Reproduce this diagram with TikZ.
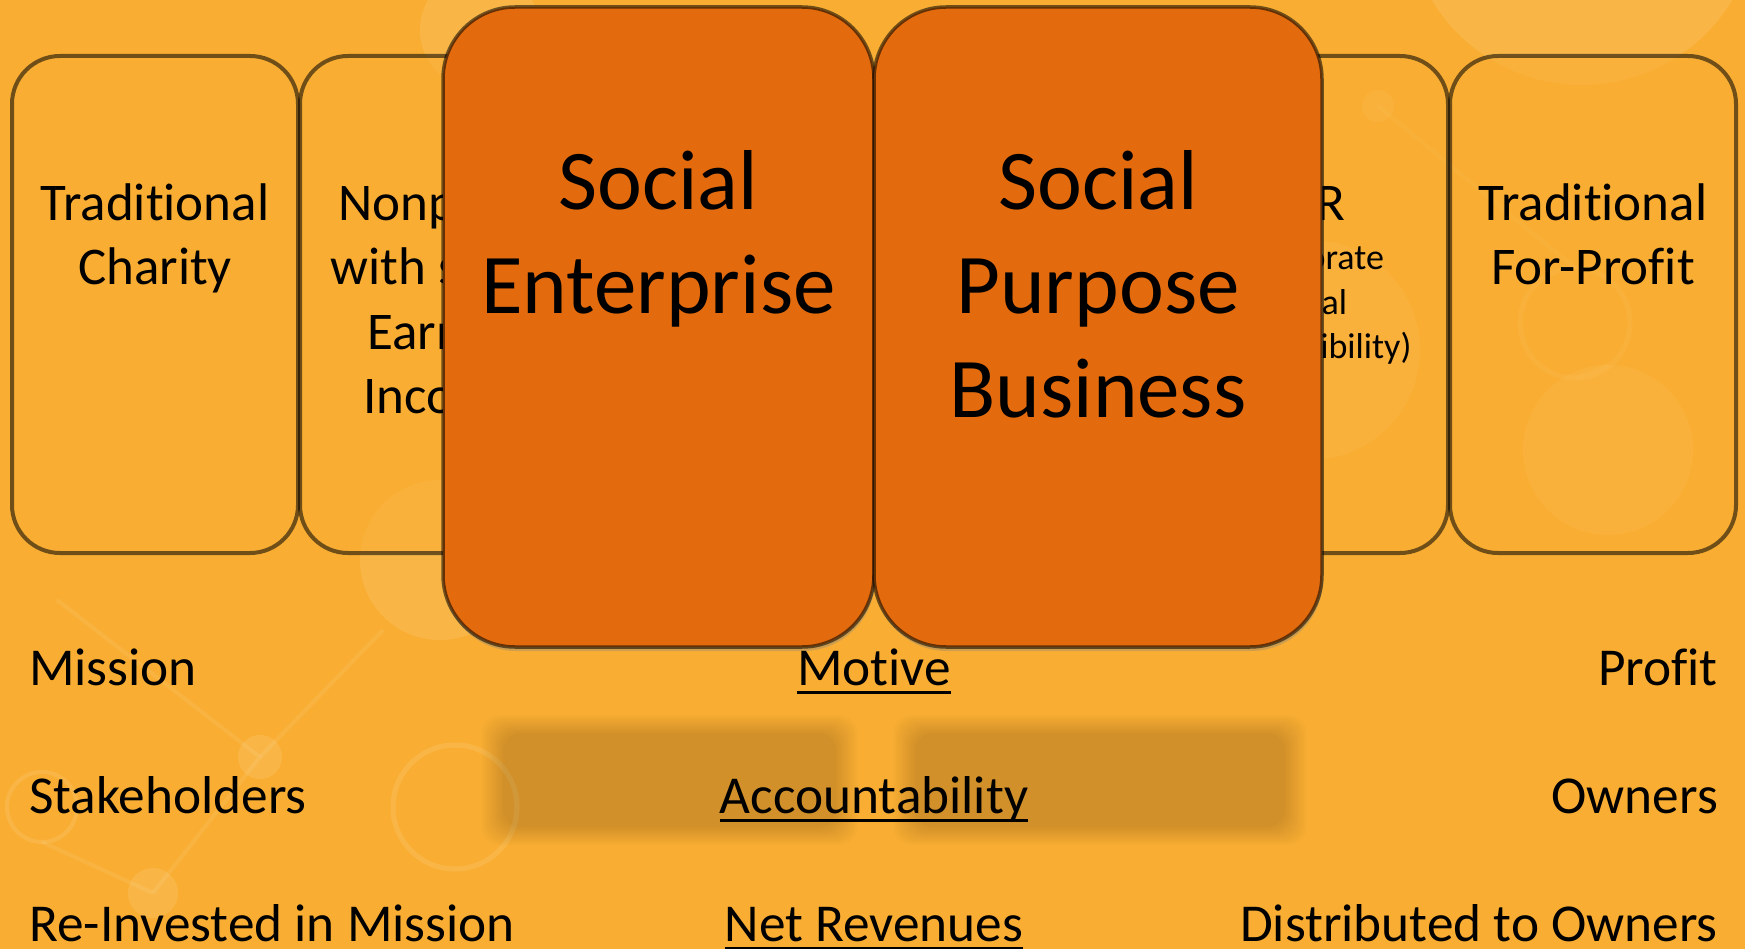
\documentclass[tikz,border=0pt]{standalone}
\usepackage{fontspec}
\setmainfont{Carlito}[Ligatures={NoCommon}]
\usetikzlibrary{shadows}
\definecolor{bg}{HTML}{F9AE33}
\definecolor{deep}{HTML}{E36B0D}
\begin{document}
\begin{tikzpicture}[x=1pt,y=-1pt,
  smallbox/.style={draw=black, draw opacity=0.55, line width=4pt, fill=bg, fill opacity=0.6,
    rounded corners=48pt, minimum width=286pt, minimum height=497pt, inner sep=0pt},
  bigbox/.style={draw=black, draw opacity=0.55, line width=3.5pt, fill=deep,
    rounded corners=72pt, minimum height=640pt, inner sep=0pt,
    drop shadow={shadow xshift=1pt, shadow yshift=-4pt, opacity=0.35}},
  lbl/.style={font=\fontsize{53}{64}\selectfont, align=center, anchor=base, inner sep=0pt},
  sublbl/.style={font=\fontsize{36}{44.5}\selectfont, align=center, anchor=base, inner sep=0pt},
  biglbl/.style={font=\fontsize{85}{103.5}\selectfont, align=center, anchor=base, inner sep=0pt},
  rowlbl/.style={font=\fontsize{53.3}{64}\selectfont, inner sep=0pt},
  deco/.style={white, opacity=0.1},
  decoline/.style={white, opacity=0.07, line width=4pt},
  uline/.style={line width=3.6pt}
]
\useasboundingbox (0,0) rectangle (1745,949);
\fill[bg] (0,0) rectangle (1745,949);
% faint background network
\fill[deco] (1582,-90) circle (175);
\fill[deco] (1608,450) circle (85);
\draw[deco, line width=5pt] (1575,323) circle (55);
\fill[deco] (1378,106) circle (16);
\fill[deco] (1310,350) circle (110);
\fill[deco] (440,560) circle (80);
\fill[deco] (480,30) circle (60);
\draw[deco, line width=5pt] (455,807) circle (62);
\fill[deco] (260,757) circle (22);
\fill[deco] (153,893) circle (25);
\draw[deco, line width=4pt] (42,807) circle (35);
\draw[decoline] (57,600) -- (260,757) -- (153,893);
\draw[decoline] (260,757) -- (383,630);
\draw[decoline] (153,893) -- (42,842);
\draw[decoline] (1378,106) -- (1575,268);
\draw[decoline] (1608,365) -- (1575,378);
% blurred reflections
\foreach \k in {0,...,9} {
  \fill[black, opacity=0.016, rounded corners=18pt] ({503-2.4*\k},{733-2.0*\k}) rectangle ({836+2.4*\k},{827+2.0*\k});
  \fill[black, opacity=0.016, rounded corners=18pt] ({915-2.4*\k},{733-2.0*\k}) rectangle ({1285+2.4*\k},{827+2.0*\k});
}
% small boxes
\node[smallbox] (b1) at (155,304.5) {};
\node[smallbox] (b2) at (443,304.5) {};
\node[smallbox] (b5) at (1305,304.5) {};
\node[smallbox] (b6) at (1593,304.5) {};
\node[lbl] (t1) at (155,285) {Traditional\\Charity};
\node[lbl] (t2) at (443,413) {Nonprofit\\with some\\Earned\\Income};
\node[lbl] (t5) at (1305,221) {CSR};
\node[sublbl] (t5b) at (1305,359) {(Corporate\\Social\\Responsibility)};
\node[lbl] (t6) at (1593,285) {Traditional\\For-Profit};
% big boxes
\node[bigbox, minimum width=431pt] (se) at (658.5,327) {};
\node[bigbox, minimum width=448pt] (spb) at (1098,327) {};
\node[biglbl] (tse) at (658.5,313.5) {Social\\Enterprise};
\node[biglbl] (tspb) at (1098,417) {Social\\Purpose\\Business};
% rows
\node[rowlbl, anchor=base west] (l1) at (29,685) {Mission};
\node[rowlbl, anchor=base west] (l2) at (29,813) {Stakeholders};
\node[rowlbl, anchor=base west] (l3) at (29,941) {Re-Invested in Mission};
\node[rowlbl, anchor=base] (c1) at (874,685) {Motive};
\node[rowlbl, anchor=base] (c2) at (874,813) {Accountability};
\node[rowlbl, anchor=base] (c3) at (874,941) {Net Revenues};
\node[rowlbl, anchor=base east] (r1) at (1718,685) {Profit};
\node[rowlbl, anchor=base east] (r2) at (1718,813) {Owners};
\node[rowlbl, anchor=base east] (r3) at (1718,941) {Distributed to Owners};
\foreach \n in {c1,c2,c3} {
  \draw[uline] ([yshift=-7.5pt]\n.base west) -- ([yshift=-7.5pt]\n.base east);
}
\end{tikzpicture}
\end{document}
